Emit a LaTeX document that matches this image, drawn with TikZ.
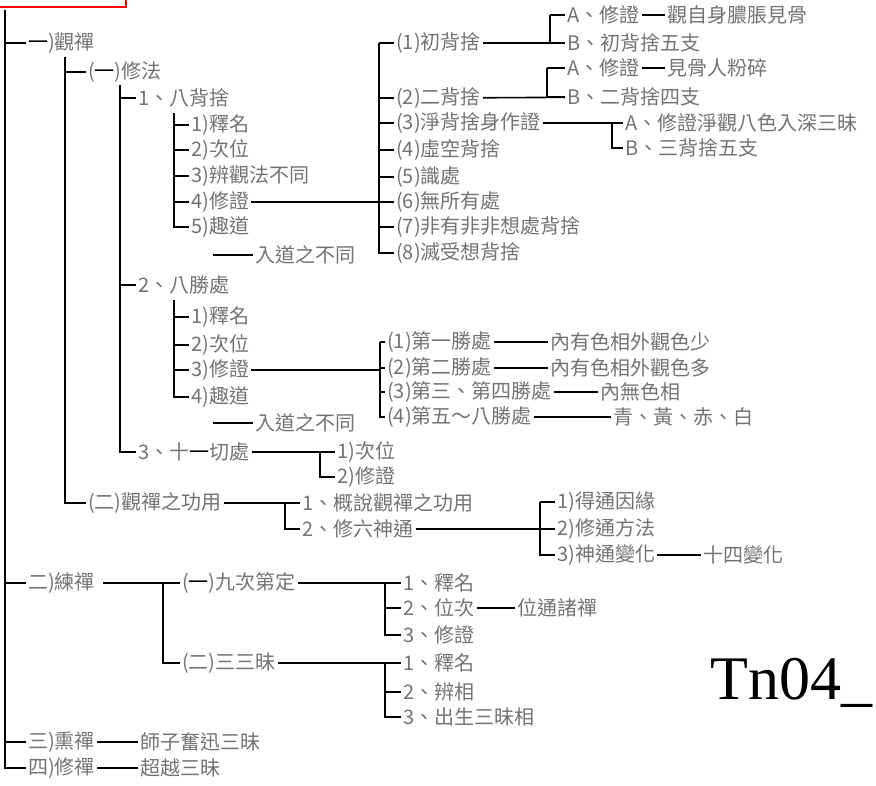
\documentclass[tikz,border=0pt]{standalone}
\usepackage{fontspec}
\newfontfamily\cjk{Noto Sans CJK TC}
\newfontfamily\tnr{Liberation Serif}
\newcommand\yi{\textcolor{black}{一}}
\begin{document}
\begin{tikzpicture}[x=1pt,y=-1pt,
    lbl/.style={anchor=west,inner xsep=2pt,inner ysep=0pt,text=black!55,
      font=\cjk\fontsize{20}{20}\selectfont},
    ln/.style={line width=1.6pt}]
      \useasboundingbox (0,0) rectangle (876,786);
      \draw [red,line width=1.4pt] (-5,-20) rectangle (126,7);
      % level 1
      \coordinate (k0) at (5,10);
      \node[lbl] (g1) at (26,43) {\yi)觀禪};
      \node[lbl] (g2) at (26,583) {二)練禪};
      \node[lbl] (g3) at (26,742) {三)熏禪};
      \node[lbl] (g4) at (26,768) {四)修禪};
      \node[lbl] (w1) at (138,742) {師子奮迅三昧};
      \node[lbl] (w2) at (138,768) {超越三昧};
      % (一)修法 / (二)功用
      \coordinate (k1) at (65,57);
      \node[lbl] (s1) at (86,72) {(\yi)修法};
      \node[lbl] (s2) at (86,503) {(二)觀禪之功用};
      \coordinate (k2) at (120,85);
      \node[lbl] (m1) at (136,98) {1、八背捨};
      \node[lbl] (m2) at (136,285) {2、八勝處};
      \node[lbl] (m3) at (136,452) {3、十\yi 切處};
      % 八背捨
      \coordinate (k3) at (174,113);
      \node[lbl] (a1) at (189,125) {1)釋名};
      \node[lbl] (a2) at (189,150) {2)次位};
      \node[lbl] (a3) at (189,176) {3)辨觀法不同};
      \node[lbl] (a4) at (189,202) {4)修證};
      \node[lbl] (a5) at (189,227) {5)趣道};
      \coordinate (x1) at (213,255);
      \node[lbl] (a6) at (253,255) {入道之不同};
      \coordinate (k4) at (379,43);
      \node[lbl] (p1) at (394,43) {(1)初背捨};
      \node[lbl] (p2) at (394,98) {(2)二背捨};
      \node[lbl] (p3) at (394,123) {(3)淨背捨身作證};
      \node[lbl] (p4) at (394,150) {(4)虛空背捨};
      \node[lbl] (p5) at (394,177) {(5)識處};
      \node[lbl] (p6) at (394,202) {(6)無所有處};
      \node[lbl] (p7) at (394,227) {(7)非有非非想處背捨};
      \node[lbl] (p8) at (394,253) {(8)滅受想背捨};
      \coordinate (k5) at (550,15);
      \node[lbl] (q1) at (565,15) {A、修證};
      \node[lbl] (r1) at (665,15) {觀自身膿脹見骨};
      \node[lbl] (q2) at (565,43) {B、初背捨五支};
      \coordinate (k6) at (547,68);
      \node[lbl] (q3) at (565,68) {A、修證};
      \node[lbl] (r2) at (665,68) {見骨人粉碎};
      \node[lbl] (q4) at (565,97) {B、二背捨四支};
      \coordinate (k7) at (612,123);
      \node[lbl] (q5) at (623,123) {A、修證淨觀八色入深三昧};
      \node[lbl] (q6) at (623,148) {B、三背捨五支};
      % 八勝處
      \coordinate (k8) at (174,300);
      \node[lbl] (b1) at (189,317) {1)釋名};
      \node[lbl] (b2) at (189,345) {2)次位};
      \node[lbl] (b3) at (189,370) {3)修證};
      \node[lbl] (b4) at (189,397) {4)趣道};
      \coordinate (x2) at (213,423);
      \node[lbl] (b5) at (253,423) {入道之不同};
      \coordinate (k9) at (380,342);
      \node[lbl] (c1) at (385,342) {(1)第一勝處};
      \node[lbl] (c2) at (385,368) {(2)第二勝處};
      \node[lbl] (c3) at (385,392) {(3)第三、第四勝處};
      \node[lbl] (c4) at (385,417) {(4)第五～八勝處};
      \node[lbl] (d1) at (548,342) {內有色相外觀色少};
      \node[lbl] (d2) at (548,368) {內有色相外觀色多};
      \node[lbl] (d3) at (598,392) {內無色相};
      \node[lbl] (d4) at (611,417) {青、黃、赤、白};
      % 十一切處
      \coordinate (k10) at (320,452);
      \node[lbl] (e1) at (335,452) {1)次位};
      \node[lbl] (e2) at (335,477) {2)修證};
      % 功用
      \coordinate (k11) at (285,503);
      \node[lbl] (f1) at (300,503) {1、概說觀禪之功用};
      \node[lbl] (f2) at (300,529) {2、修六神通};
      \coordinate (k12) at (540,502);
      \node[lbl] (h1) at (555,502) {1)得通因緣};
      \node[lbl] (h2) at (555,529) {2)修通方法};
      \node[lbl] (h3) at (555,555) {3)神通變化};
      \node[lbl] (h4) at (701,555) {十四變化};
      % 練禪
      \coordinate (k13) at (163,583);
      \node[lbl] (n1) at (180,583) {(\yi)九次第定};
      \node[lbl] (n2) at (180,663) {(二)三三昧};
      \coordinate (k14) at (385,583);
      \node[lbl] (u1) at (401,583) {1、釋名};
      \node[lbl] (u2) at (401,608) {2、位次};
      \node[lbl] (u3) at (401,635) {3、修證};
      \node[lbl] (v1) at (515,608) {位通諸禪};
      \coordinate (k15) at (385,663);
      \node[lbl] (u4) at (401,663) {1、釋名};
      \node[lbl] (u5) at (401,692) {2、辨相};
      \node[lbl] (u6) at (401,717) {3、出生三昧相};
      \node[anchor=base west,inner sep=0pt,font=\tnr\fontsize{62}{62}\selectfont]
        (tn) at (710,699) {Tn04\_};
      % connectors
      \begin{scope}[ln]
      \foreach \n in {g1,g2,g3,g4} \draw (k0) |- (\n.west);
      \foreach \n in {s1,s2} \draw (k1) |- (\n.west);
      \foreach \n in {m1,m2,m3} \draw (k2) |- (\n.west);
      \foreach \n in {a1,a2,a3,a4,a5} \draw (k3) |- (\n.west);
      \draw (x1) -- (a6);
      \draw (a4) -- (a4 -| k4);
      \foreach \n in {p1,p2,p3,p4,p5,p6,p7,p8} \draw (k4) |- (\n.west);
      \draw (p1) -- (q2);
      \foreach \n in {q1,q2} \draw (k5) |- (\n.west);
      \draw (p2) -- (q4);
      \foreach \n in {q3,q4} \draw (k6) |- (\n.west);
      \draw (p3) -- (q5);
      \foreach \n in {q5,q6} \draw (k7) |- (\n.west);
      \draw (q1) -- (r1);
      \draw [line width=2.6pt] (q3) -- (r2);
      \foreach \n in {b1,b2,b3,b4} \draw (k8) |- (\n.west);
      \draw (x2) -- (b5);
      \draw (b3) -- (b3 -| k9);
      \foreach \n in {c1,c2,c3,c4} \draw (k9) |- (\n.west);
      \draw (c1) -- (d1);
      \draw (c2) -- (d2);
      \draw (c3) -- (d3);
      \draw (c4) -- (d4);
      \draw (m3) -- (e1);
      \foreach \n in {e1,e2} \draw (k10) |- (\n.west);
      \draw (s2) -- (f1);
      \foreach \n in {f1,f2} \draw (k11) |- (\n.west);
      \draw (f2) -- (f2 -| k12);
      \foreach \n in {h1,h2,h3} \draw (k12) |- (\n.west);
      \draw (h3) -- (h4);
      \draw ([xshift=6pt]g2.east) -- (n1);
      \foreach \n in {n1,n2} \draw (k13) |- (\n.west);
      \draw (n1) -- (u1);
      \foreach \n in {u1,u2,u3} \draw (k14) |- (\n.west);
      \draw (u2) -- (v1);
      \draw (n2) -- (u4);
      \foreach \n in {u4,u5,u6} \draw (k15) |- (\n.west);
      \draw (g3) -- (w1);
      \draw (g4) -- (w2);
      \end{scope}
    \end{tikzpicture}
\end{document}
